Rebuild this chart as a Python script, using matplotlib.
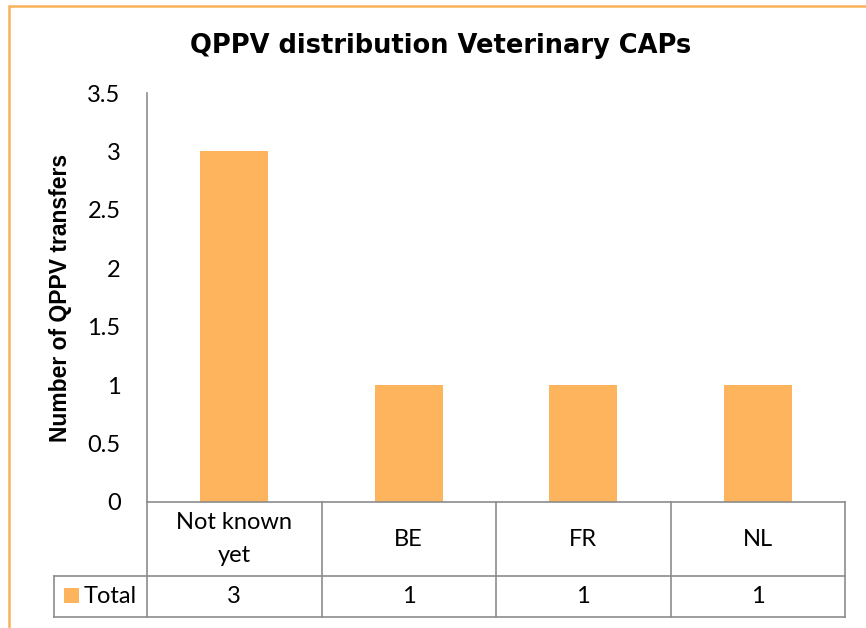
import matplotlib
matplotlib.use("Agg")
import matplotlib.pyplot as plt
from matplotlib.patches import Rectangle
from matplotlib.lines import Line2D

categories = ["Not known\nyet", "BE", "FR", "NL"]
totals = [3, 1, 1, 1]
series_name = "Total"
title = "QPPV distribution Veterinary CAPs"
ylabel = "Number of QPPV transfers"

bar_color = "#FDB45C"
grid_gray = "#8C8C8C"
fs = 17

W, H = 866, 628
fig = plt.figure(figsize=(W / 100, H / 100), dpi=100)

# plot area in pixels (left, top, right, bottom)
px_l, px_t, px_r, px_b = 147, 93, 845, 502
ax = fig.add_axes([px_l / W, 1 - px_b / H, (px_r - px_l) / W, (px_b - px_t) / H])

x = range(len(categories))
ax.bar(x, totals, width=0.39, color=bar_color)
ax.set_xlim(-0.5, len(categories) - 0.5)
ax.set_ylim(0, 3.5)
ax.set_yticks([0, 0.5, 1, 1.5, 2, 2.5, 3, 3.5])
ax.set_yticklabels(["0", "0.5", "1", "1.5", "2", "2.5", "3", "3.5"],
                   fontfamily="Lato", fontsize=fs)
ax.tick_params(axis="y", length=0, pad=19)
ax.set_xticks([])
for s in ["top", "right", "bottom"]:
    ax.spines[s].set_visible(False)
ax.spines["left"].set_color(grid_gray)
ax.spines["left"].set_linewidth(1.2)

ax.set_ylabel(ylabel, fontfamily="Liberation Sans", fontweight="bold", fontsize=16.5, labelpad=11)
fig.text(441 / W, 1 - 46 / H, title, ha="center", va="center",
         fontfamily="DejaVu Sans", fontweight="bold", fontsize=18.5)

# data table under the plot area
aw = px_r - px_l
ah = px_b - px_t
row1 = -(576 - px_b) / ah
row2 = -(617 - px_b) / ah
left2 = -(px_l - 54) / aw
n = len(categories)
lk = dict(color=grid_gray, lw=1.2, transform=ax.transAxes, clip_on=False)
ax.add_line(Line2D([0, 1], [0, 0], **lk))
ax.add_line(Line2D([left2, 1], [row1, row1], **lk))
ax.add_line(Line2D([left2, 1], [row2, row2], **lk))
ax.add_line(Line2D([left2, left2], [row1, row2], **lk))
for i in range(n + 1):
    ax.add_line(Line2D([i / n, i / n], [0, row2], **lk))

for i, (c, v) in enumerate(zip(categories, totals)):
    xc = (i + 0.5) / n
    ax.text(xc, row1 / 2, c, ha="center", va="center", transform=ax.transAxes,
            fontfamily="Lato", fontsize=fs, linespacing=1.65)
    ax.text(xc, (row1 + row2) / 2, str(v), ha="center", va="center",
            transform=ax.transAxes, fontfamily="Lato", fontsize=fs)

# legend key in the table
ax.add_patch(Rectangle((-(px_l - 64) / aw, -(603 - px_b) / ah), 15 / aw, 15 / ah,
                       facecolor=bar_color, transform=ax.transAxes, clip_on=False))
ax.text(-(px_l - 84) / aw, (row1 + row2) / 2, series_name, ha="left", va="center",
        transform=ax.transAxes, fontfamily="Lato", fontsize=fs)

# chart border (cropped on the right and bottom)
fig.add_artist(Rectangle((9 / W, -0.2), 2, 1.2 - 6 / H, transform=fig.transFigure,
                         fill=False, edgecolor="#F9B25A", lw=1.8))

fig.savefig("out.png", dpi=100)
